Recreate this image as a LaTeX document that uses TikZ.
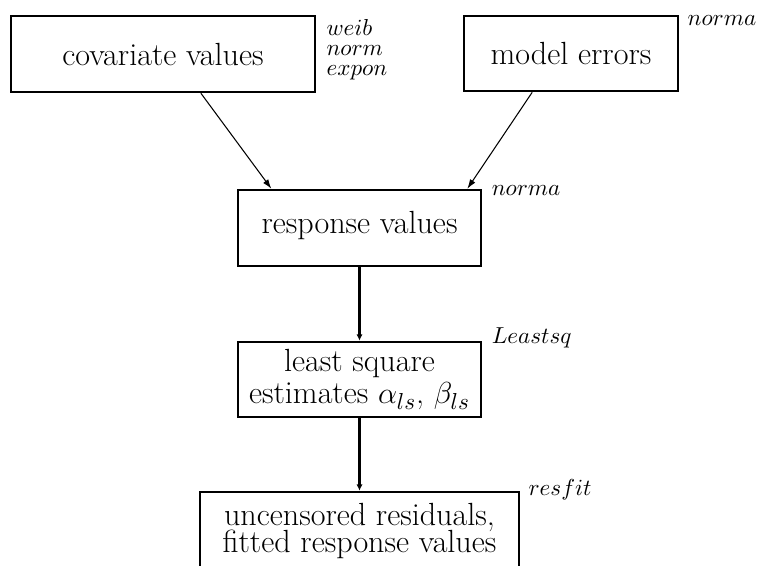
\documentclass[tikz,border=0pt]{standalone}
\usepackage{amsmath}
\usetikzlibrary{arrows.meta}

\begin{document}
\begin{tikzpicture}[x=0.474pt, y=-0.474pt, >={Latex[length=4.5pt,width=3pt]},
  box/.style={draw, line width=1.2pt, inner sep=0pt, font=\fontsize{15.2}{18}\selectfont, align=center},
  lbl/.style={inner sep=0pt, font=\fontsize{11}{9.4}\selectfont}]
\useasboundingbox (0,0) rectangle (763,565);

% boxes
\node[box, minimum width=144.1pt, minimum height=36pt] (cov) at (163,54) {covariate values};
\node[box, minimum width=101.4pt, minimum height=35.6pt] (err) at (571,53.5) {model errors};
\node[box, minimum width=115.2pt, minimum height=36pt] (resp) at (359.5,228) {\raisebox{5.6pt}{response values}};
\node[box, minimum width=115.2pt, minimum height=35.6pt] (lsq) at (359.5,379.5) {least square\\[-2.4pt] estimates $\alpha_{ls}$, $\beta_{ls}$};
\node[box, minimum width=151.2pt, minimum height=37pt] (res) at (359.5,531) {uncensored residuals,\\[-5.6pt] fitted response values};

% routine names
\node[lbl, anchor=north west, align=left, xshift=4.7pt, yshift=-2pt] (covlbl) at (cov.north east) {$weib$\\$norm$\\$expon$};
\node[lbl, anchor=base west, xshift=3.8pt, yshift=-5.2pt] (errlbl) at (err.north east) {$norma$};
\node[lbl, anchor=base west, xshift=4.3pt, yshift=-3.3pt] (resplbl) at (resp.north east) {$norma$};
\node[lbl, anchor=base west, xshift=4.3pt, yshift=-1.4pt] (lsqlbl) at (lsq.north east) {$Leastsq$};
\node[lbl, anchor=base west, xshift=3.8pt, yshift=-2.4pt] (reslbl) at (res.north east) {$resfit$};

% connectors
\draw[->, line width=0.5pt] (cov.-46) -- (resp.156);
\draw[->, line width=0.5pt] (err.-135.4) -- (resp.20.3);
\draw[->, line width=1.4pt, >={Latex[length=3pt,width=3pt]}] (resp) -- (lsq);
\draw[->, line width=1.4pt, >={Latex[length=3pt,width=3pt]}] (lsq) -- (res);

\end{tikzpicture}
\end{document}
